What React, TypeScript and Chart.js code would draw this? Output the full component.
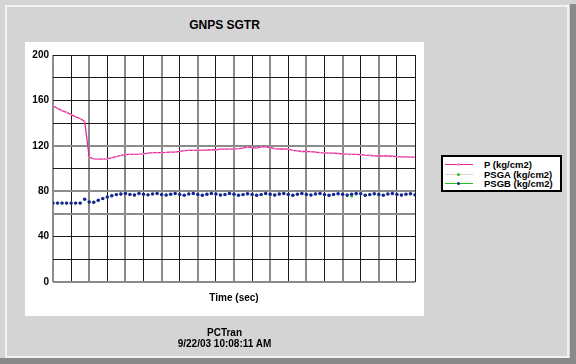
import React, { useEffect, useRef } from "react";
import { Chart, registerables } from "chart.js";

Chart.register(...registerables);

const TIME = [
  0, 1, 2, 3, 4, 5, 6, 7, 8, 9, 10, 11, 12, 13, 14, 15, 16, 17, 18, 19, 20,
  21, 22, 23, 24, 25, 26, 27, 28, 29, 30, 31, 32, 33, 34, 35, 36, 37, 38, 39, 40,
  41, 42, 43, 44, 45, 46, 47, 48, 49, 50, 51, 52, 53, 54, 55, 56, 57, 58, 59, 60,
  61, 62, 63, 64, 65, 66, 67, 68, 69, 70, 71, 72, 73, 74, 75, 76, 77, 78, 79, 80,
];

const P = [
  155.3, 153, 151, 149.5, 147.5, 145.5, 144, 141.5, 110, 108.5, 108.2, 108.2, 108.5,
  109.5, 110.5, 111.5, 112.3, 112.5, 112.5, 112.6, 112.8, 113.5, 114, 114, 114, 114.2,
  114.5, 114.5, 115, 115.8, 116, 116, 116, 116.2, 116.3, 116.5, 116.5, 117, 117, 117,
  117.3, 117.5, 118, 119, 118.5, 118, 119, 119, 118.5, 117.5, 117.2, 117.2, 117, 116,
  115.5, 115, 115, 114.8, 114.5, 114, 113.8, 113.6, 113.6, 113.2, 112.8, 112.6, 112.5,
  112.5, 112.3, 111.8, 111.5, 111.2, 111, 111, 111, 110.8, 110.5, 110.3, 110.2, 110.1, 110,
];

const PSGA = [
  69.5, 69.5, 69.5, 69.5, 69.5, 69.5, 69.5, 73, 70.5, 70.3, 72, 73.5, 75, 76, 77,
  77.5, 78, 77.2, 76.6, 78, 77.3, 76.8, 77.6, 78, 77, 76.6, 77.4, 78, 77.2, 76.5,
  77.6, 78, 77.2, 76.4, 77.3, 78, 77.5, 76.6, 77, 78, 77.4, 76.5, 77, 77.8, 77.2,
  76.4, 77, 78, 77.3, 76.6, 77.5, 78, 77.2, 76.4, 77.4, 78, 77.2, 76.6, 77.6, 78,
  77, 76.4, 77.2, 77.8, 77.3, 76.2, 75.8, 77.5, 77.8, 76.4, 77, 77.8, 77.2, 76.5,
  77.6, 78, 77.2, 76.6, 77.4, 77.8, 76.8,
];

const PSGB = [
  69.5, 69.5, 69.5, 69.5, 69.5, 69.5, 69.5, 73, 70.5, 70.3, 72, 73.5, 75, 76, 77,
  77.5, 78, 77.2, 76.6, 78, 77.3, 76.8, 77.6, 78, 77, 76.6, 77.4, 78, 77.2, 76.5,
  77.6, 78, 77.2, 76.4, 77.3, 78, 77.5, 76.6, 77, 78, 77.4, 76.5, 77, 77.8, 77.2,
  76.4, 77, 78, 77.3, 76.6, 77.5, 78, 77.2, 76.4, 77.4, 78, 77.2, 76.6, 77.6, 78,
  77, 76.4, 77.2, 77.8, 77.3, 76.6, 77.4, 78, 77.8, 76.4, 77, 77.8, 77.2, 76.5,
  77.6, 78, 77.2, 76.6, 77.4, 77.8, 76.8,
];

const SERIES_LABELS = ["P (kg/cm2)", "PSGA (kg/cm2)", "PSGB (kg/cm2)"];
const LINE_COLORS = ["#e3299a", "#ddd6c2", "#22c322"];
const MARKER_COLORS = ["#ff8fcf", "#33bb33", "#1a229a"];

const Y_GRAY_VALUES = [120, 80, 60, 0];

const FONT = "'Liberation Sans', Arial, sans-serif";

function App() {
  const canvasRef = useRef<HTMLCanvasElement | null>(null);

  useEffect(() => {
    const canvas = canvasRef.current;
    if (!canvas) return;
    const toXY = (arr: number[]) => arr.map((v, i) => ({ x: TIME[i], y: v }));
    const chart = new Chart(canvas, {
      type: "line",
      data: {
        datasets: [
          {
            label: SERIES_LABELS[0],
            data: toXY(P),
            borderColor: LINE_COLORS[0],
            borderWidth: 1.3,
            pointRadius: 1,
            pointBorderWidth: 0,
            pointBackgroundColor: MARKER_COLORS[0],
            pointStyle: "rect",
            tension: 0,
            order: -1,
          },
          {
            label: SERIES_LABELS[1],
            data: toXY(PSGA),
            borderColor: "rgba(221,214,194,0.0)",
            borderWidth: 1,
            pointRadius: 1.5,
            pointBorderWidth: 0,
            pointBackgroundColor: MARKER_COLORS[1],
            tension: 0,
            order: 1,
          },
          {
            label: SERIES_LABELS[2],
            data: toXY(PSGB),
            borderColor: "rgba(120,150,230,0.25)",
            borderWidth: 1,
            pointRadius: 1.7,
            pointBorderWidth: 0,
            pointBackgroundColor: MARKER_COLORS[2],
            tension: 0,
            order: 0,
          },
        ],
      },
      options: {
        animation: false,
        responsive: false,
        maintainAspectRatio: false,
        events: [],
        layout: { padding: { left: 0, top: 55, right: 161, bottom: 60 } },
        plugins: {
          legend: { display: false },
          tooltip: { enabled: false },
          title: { display: false },
        },
        scales: {
          x: {
            type: "linear",
            min: 0,
            max: 80,
            ticks: { display: false, stepSize: 4 },
            border: { display: false },
            grid: {
              drawTicks: false,
              color: (ctx: any) => {
                const k = Math.round(ctx.tick.value / 4);
                return k % 2 === 0 && k !== 20 ? "#8c8c8c" : "#1a1a1a";
              },
              lineWidth: (ctx: any) => {
                const k = Math.round(ctx.tick.value / 4);
                return k % 2 === 0 && k !== 20 ? 2 : 1;
              },
            },
            title: {
              display: true,
              text: "Time (sec)",
              color: "#000",
              font: { family: FONT, size: 10, weight: "bold" },
              padding: { top: 0, bottom: 0 },
            },
            afterFit: (s: any) => {
              s.height = 22;
            },
          },
          y: {
            min: 0,
            max: 200,
            ticks: {
              stepSize: 20,
              padding: 4,
              color: "#000",
              font: { family: FONT, size: 10, weight: "bold" },
              callback: (v: any) => (Number(v) % 40 === 0 ? String(v) : ""),
            },
            border: { display: false },
            grid: {
              drawTicks: false,
              color: (ctx: any) =>
                Y_GRAY_VALUES.includes(ctx.tick.value) ? "#8c8c8c" : "#1a1a1a",
              lineWidth: (ctx: any) =>
                Y_GRAY_VALUES.includes(ctx.tick.value) ? 2 : 1,
            },
            afterFit: (s: any) => {
              s.width = 53;
            },
          },
        },
      },
    });
    return () => chart.destroy();
  }, []);

  const abs = (style: React.CSSProperties): React.CSSProperties => ({
    position: "absolute",
    ...style,
  });

  return (
    <div
      style={{
        position: "fixed",
        left: 0,
        top: 0,
        width: 576,
        height: 364,
        background: "#d4d4d4",
        overflow: "hidden",
        fontFamily: FONT,
      }}
    >
      <div
        style={abs({
          left: 5,
          top: 5,
          width: 560,
          height: 349,
          border: "2px solid #f2f2f2",
        })}
      />
      <div style={abs({ left: 570, top: 4, width: 6, height: 360, background: "#8a8a8a" })} />
      <div style={abs({ left: 0, top: 358, width: 576, height: 6, background: "#8a8a8a" })} />
      <div style={abs({ left: 25, top: 42, width: 399, height: 274, background: "#ffffff" })} />
      <div
        style={abs({
          left: 25,
          width: 399,
          top: 18,
          textAlign: "center",
          fontSize: 12,
          fontWeight: "bold",
          lineHeight: "14px",
          color: "#000",
        })}
      >
        GNPS SGTR
      </div>
      <canvas
        ref={canvasRef}
        width={576}
        height={364}
        style={abs({ left: 0, top: 0, width: 576, height: 364 })}
      />
      <div
        style={abs({
          left: 25,
          width: 399,
          top: 328,
          textAlign: "center",
          fontSize: 10,
          fontWeight: "bold",
          lineHeight: "10.5px",
          color: "#000",
        })}
      >
        <div>PCTran</div>
        <div>9/22/03 10:08:11 AM</div>
      </div>
      <div
        style={abs({
          left: 441,
          top: 155,
          width: 117,
          height: 33,
          border: "2px solid #000",
          background: "#fff",
        })}
      >
        {SERIES_LABELS.map((lab, i) => (
          <div
            key={lab}
            style={abs({ left: 0, top: 3 + i * 9.7, height: 10, width: 117 })}
          >
            <div
              style={abs({
                left: 2,
                top: 4,
                width: 28,
                height: 1,
                background: LINE_COLORS[i],
              })}
            />
            <div
              style={abs({
                left: 14,
                top: 3,
                width: 3,
                height: 3,
                borderRadius: 2,
                background: MARKER_COLORS[i],
              })}
            />
            <div
              style={abs({
                left: 41,
                top: -1,
                fontSize: 9.5,
                fontWeight: "bold",
                lineHeight: "11px",
                whiteSpace: "nowrap",
                color: "#000",
              })}
            >
              {lab}
            </div>
          </div>
        ))}
      </div>
    </div>
  );
}

export default App;
